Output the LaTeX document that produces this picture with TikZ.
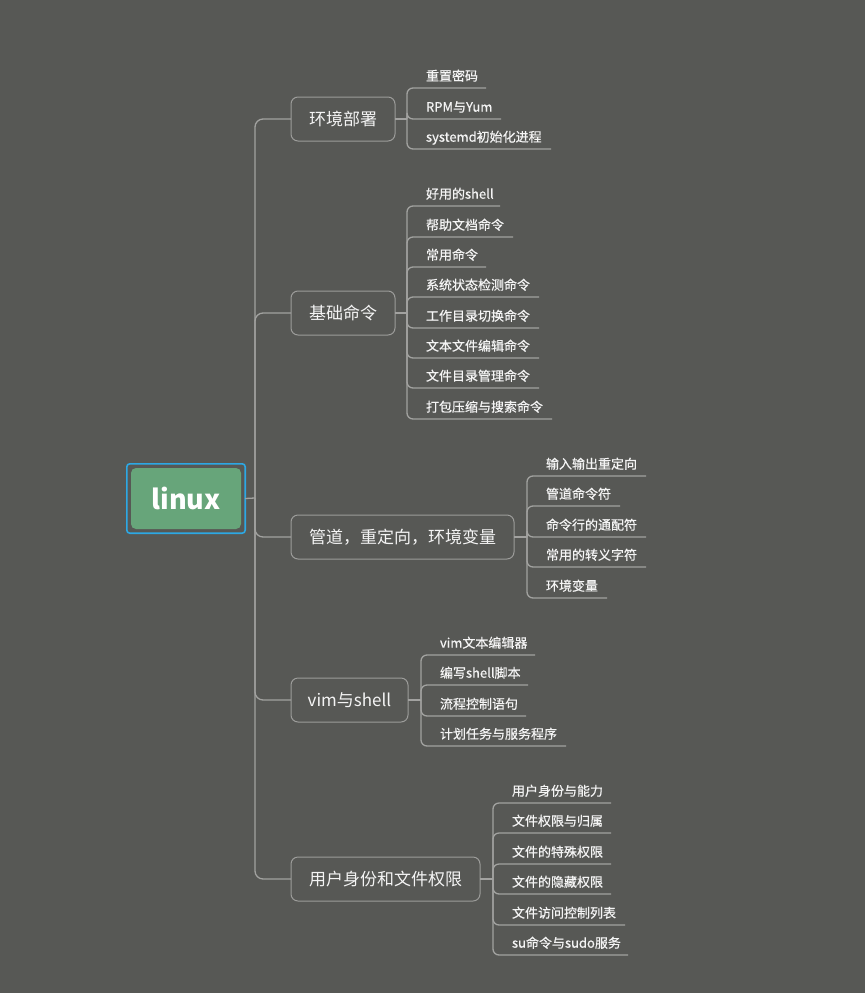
\documentclass[tikz,border=0pt]{standalone}
\usepackage{fontspec}
\setmainfont{Noto Sans CJK SC}
\newfontfamily\leaffont{Noto Sans CJK SC}[FakeBold=0.6]
\definecolor{bg}{HTML}{575855}
\definecolor{lnc}{HTML}{A2A2A0}
\definecolor{boxc}{HTML}{9C9C9A}
\definecolor{txt}{HTML}{F4F4F4}
\definecolor{rootg}{HTML}{67A57A}
\definecolor{rootb}{HTML}{2DA8E4}
\tikzset{
  ln/.style={draw=lnc, line width=1.3pt, rounded corners=6pt},
  br/.style={draw=boxc, line width=1pt, rounded corners=7pt, fill=bg, text=txt,
    font=\fontsize{17}{20}\selectfont, inner sep=0pt, outer sep=0pt,
    minimum height=44pt, anchor=west},
  lf/.style={text=txt, font=\leaffont\fontsize{13}{15}\selectfont, inner xsep=0pt, inner ysep=4.3pt,
    text height=10pt, text depth=3pt, outer sep=0pt, anchor=south west, align=left},
  rootbox/.style={fill=rootg, rounded corners=5pt, text=white, inner sep=0pt,
    minimum width=110pt, minimum height=61pt, font=\fontsize{27}{30}\selectfont\bfseries},
}
\newcommand\mmgrp[6]{%
  \node[br, minimum width=#3pt] (#1) at (291,#2) {#4};
  \draw[ln, rounded corners=8pt] (trunk) |- (#1.west);
  \coordinate (#1s) at (#5,#2);
  \draw[ln] (#1.east) -- (#1s);
  \foreach \t/\uy/\ex [count=\i] in {#6} {
    \pgfmathsetmacro\tw{\ex-#5-19}
    \node[lf, text width=\tw pt] (#1l\i) at (#5+19,\uy) {\t};
    \draw[ln] (#1s) |- (#1l\i.south east);
  }}
\begin{document}
\begin{tikzpicture}[x=1pt,y=-1pt]
\fill[bg] (0,0) rectangle (865,993);
\useasboundingbox (0,0) rectangle (865,993);
\node[rootbox] (root) at (186,498.5) {linux};
\draw[rootb, line width=1.6pt, rounded corners=3pt]
  ([shift={(-4,-4)}]root.north west) rectangle ([shift={(4,4)}]root.south east);
\coordinate (trunk) at (255,498);
\draw[ln] ([xshift=4pt]root.east) -- (trunk);
\mmgrp{b1}{119}{104}{环境部署}{407}{重置密码/88/486, RPM与Yum/119/501, systemd初始化进程/149/551}
\mmgrp{b2}{313}{104}{基础命令}{407}{好用的shell/206/500, 帮助文档命令/237/513, 常用命令/267/486, 系统状态检测命令/297/539, 工作目录切换命令/328/539, 文本文件编辑命令/358/539, 文件目录管理命令/388/539, 打包压缩与搜索命令/419/552}
\mmgrp{b3}{537}{223}{管道，重定向，环境变量}{527}{输入输出重定向/476/646, 管道命令符/506/620, 命令行的通配符/537/646, 常用的转义字符/567/646, 环境变量/598/607}
\mmgrp{b4}{700}{117}{vim与shell}{421}{vim文本编辑器/655/535, 编写shell脚本/685/528, 流程控制语句/716/526, 计划任务与服务程序/746/566}
\mmgrp{b5}{879}{189}{用户身份和文件权限}{493}{用户身份与能力/803/611, 文件权限与归属/833/611, 文件的特殊权限/864/611, 文件的隐藏权限/894/611, 文件访问控制列表/925/625, su命令与sudo服务/955/628}
\end{tikzpicture}
\end{document}
